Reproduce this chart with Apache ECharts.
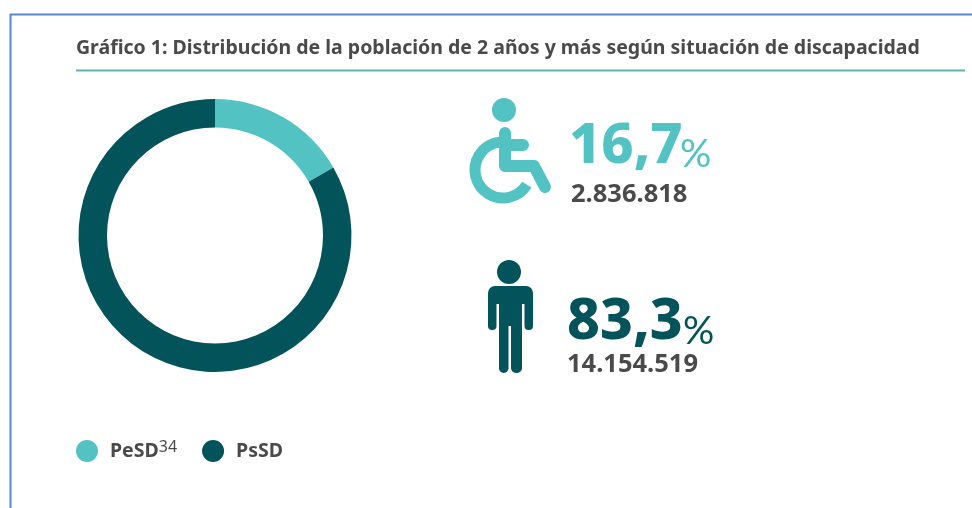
<!DOCTYPE html>
<html><head><meta charset="utf-8">
<style>html,body{margin:0;padding:0;background:#fff}#c{width:972px;height:508px}</style>
<script src="https://cdn.jsdelivr.net/npm/echarts@6/dist/echarts.min.js"></script>
</head><body><div id="c"></div>
<script>
var titleText = 'Gráfico 1: Distribución de la población de 2 años y más según situación de discapacidad';
var categories = ['PeSD', 'PsSD'];
var population = [2836818, 14154519];
var populationLabels = ['2.836.818', '14.154.519'];
var percentLabels = ['16,7', '83,3'];
var footnote = '34';
var colors = ['#52c2c2', '#03535a'];
var gray = '#4a4a4a';
var font = '"Noto Sans"';

var chart = echarts.init(document.getElementById('c'), null, {renderer: 'canvas'});
function txt(x, y, text, size, weight, color, family) {
  return {type: 'text', x: x, y: y, silent: true, style: {text: text, fontSize: size, fontWeight: weight, fill: color, fontFamily: family || font, verticalAlign: 'middle'}};
}
function box(x, y, w, h, r) {
  return {type: 'rect', silent: true, shape: {x: x, y: y, width: w, height: h, r: r}, style: {fill: colors[1]}};
}
chart.setOption({
  animation: false,
  title: {text: titleText, left: 76, top: 38, padding: 0, textStyle: {fontFamily: font, fontSize: 19.5, fontWeight: 'bold', color: gray}},
  legend: {
    left: 76, top: 439, padding: 0, itemWidth: 22, itemHeight: 22, itemGap: 25, icon: 'circle', selectedMode: false,
    data: categories,
    formatter: function (n) { return n === categories[0] ? '{b|' + n + '}{s|' + footnote + '}' : '{b|' + n + '}'; },
    textStyle: {
      color: gray, fontFamily: font, fontSize: 19.5, fontWeight: 'bold', padding: [0, 0, 0, 7],
      rich: {
        b: {fontFamily: font, fontSize: 19.5, fontWeight: 'bold', color: gray},
        s: {fontFamily: font, fontSize: 16, fontWeight: 'normal', color: gray, verticalAlign: 'top', padding: [0, 0, 8, 0]}
      }
    }
  },
  series: [{
    type: 'pie', center: [215, 235.5], radius: [108, 136.5], startAngle: 90, clockwise: true, silent: true,
    label: {show: false}, labelLine: {show: false},
    data: categories.map(function (c, i) { return {name: c, value: population[i], itemStyle: {color: colors[i]}}; })
  }],
  graphic: {elements: [
    {type: 'polyline', silent: true, shape: {points: [[10.5, 508], [10.5, 14.5], [972, 14.5]]}, style: {stroke: '#5b86cc', lineWidth: 2, fill: null}},
    {type: 'line', silent: true, shape: {x1: 76, y1: 70.5, x2: 965, y2: 70.5}, style: {stroke: '#63b1ac', lineWidth: 2}},
    // wheelchair icon
    {type: 'circle', silent: true, shape: {cx: 504, cy: 110, r: 12}, style: {fill: colors[0]}},
    {type: 'polyline', silent: true, shape: {points: [[505, 133], [505, 166], [534, 166], [545, 187]]}, style: {stroke: colors[0], lineWidth: 12, lineCap: 'round', lineJoin: 'round', fill: null}},
    {type: 'line', silent: true, shape: {x1: 505, y1: 145, x2: 523, y2: 145}, style: {stroke: colors[0], lineWidth: 12, lineCap: 'round'}},
    {type: 'arc', silent: true, shape: {cx: 503, cy: 170, r: 28, startAngle: 0.55, endAngle: 4.62, clockwise: true}, style: {stroke: colors[0], lineWidth: 11, fill: null}},
    // person icon
    {type: 'circle', silent: true, shape: {cx: 509, cy: 272, r: 12}, style: {fill: colors[1]}},
    box(488, 286, 45, 18, [7, 7, 0, 0]),
    box(488, 296, 8.5, 34, [0, 0, 4, 4]),
    box(524.5, 296, 8.5, 34, [0, 0, 4, 4]),
    box(499, 296, 23, 30, 0),
    box(499, 320, 9.5, 53, [0, 0, 5, 5]),
    box(511, 320, 11, 53, [0, 0, 5, 5]),
    // figures
    txt(569, 147, percentLabels[0], 56, 800, colors[0]),
    txt(680, 154, '%', 39, 'normal', colors[0], 'Lato'),
    txt(571, 195, populationLabels[0], 25.5, 'bold', gray),
    txt(567, 323, percentLabels[1], 57, 800, colors[1]),
    txt(683, 331, '%', 39, 'normal', colors[1], 'Lato'),
    txt(567, 365, populationLabels[1], 25.5, 'bold', gray)
  ]}
});
</script></body></html>
